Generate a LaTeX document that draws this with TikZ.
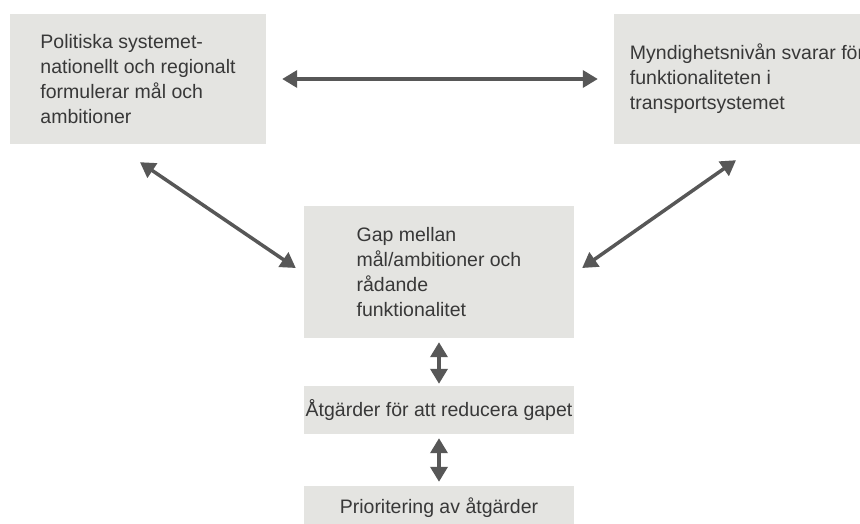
\documentclass[tikz,border=0pt]{standalone}
\usepackage{fontspec}
\setmainfont{Liberation Sans}
\usepackage{xcolor}
\usepackage{tikz}
\usetikzlibrary{arrows.meta, backgrounds}

\definecolor{boxgray}{HTML}{E4E4E1}
\definecolor{arrowgray}{HTML}{575757}
\definecolor{textgray}{HTML}{383838}

\begin{document}
\begin{tikzpicture}[x=1pt, y=-1pt,
    background rectangle/.style={fill=white}, show background rectangle, inner frame sep=0pt]
\useasboundingbox (0,0) rectangle (860,524);
\clip (0,0) rectangle (860,524);

\begin{scope}[every node/.style={fill=boxgray, text=textgray, align=left, inner sep=0pt,
              font=\fontsize{19.5}{25}\selectfont}]
  \node[minimum width=256pt, minimum height=130pt] (pol) at (138,79)
    {Politiska systemet-\\nationellt och regionalt\\formulerar mål och\\ambitioner};
  \node[minimum width=266pt, minimum height=130pt] (myn) at (747,79)
    {Myndighetsnivån svarar för\\funktionaliteten i\\transportsystemet};
  \node[minimum width=270pt, minimum height=132pt] (gap) at (439,272)
    {Gap mellan\\mål/ambitioner och\\rådande\\funktionalitet};
  \node[minimum width=270pt, minimum height=48pt] (atg) at (439,410)
    {Åtgärder för att reducera gapet};
  \node[minimum width=270pt, minimum height=44pt] (prio) at (439,508)
    {Prioritering av åtgärder};
\end{scope}

\begin{scope}[>={Triangle[length=15pt, width=17pt]},
              every edge/.style={draw=arrowgray, line width=3.5pt}]
    \path[<->, shorten <=16pt, shorten >=16pt] (pol) edge (myn);
    \path[<->] ([xshift=2pt, yshift=-18pt]pol.south) edge ([xshift=-8pt, yshift=4pt]gap.west);
    \path[<->] ([xshift=-11pt, yshift=-16pt]myn.south) edge ([xshift=8pt, yshift=4pt]gap.east);
    \path[<->, shorten <=4pt, shorten >=2pt] (gap) edge (atg);
    \path[<->, shorten <=4pt, shorten >=4pt] (atg) edge (prio);
\end{scope}

\end{tikzpicture}
\end{document}
